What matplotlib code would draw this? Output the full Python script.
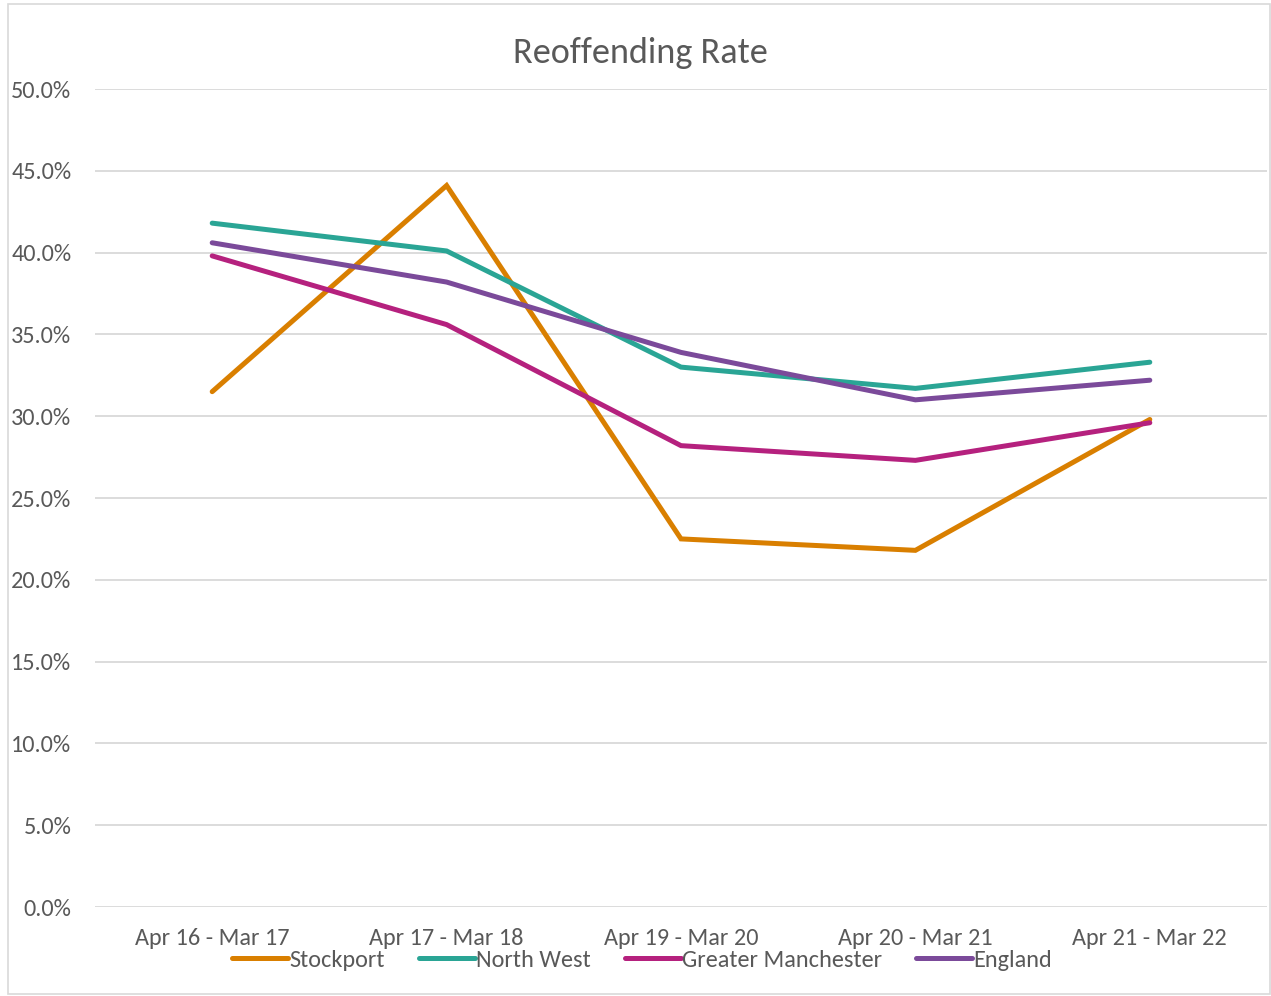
import matplotlib.pyplot as plt
from matplotlib.patches import Rectangle

# Data
periods = ['Apr 16 - Mar 17', 'Apr 17 - Mar 18', 'Apr 19 - Mar 20',
           'Apr 20 - Mar 21', 'Apr 21 - Mar 22']
stockport = [31.5, 44.1, 22.5, 21.8, 29.8]
north_west = [41.8, 40.1, 33.0, 31.7, 33.3]
greater_manchester = [39.8, 35.6, 28.2, 27.3, 29.6]
england = [40.6, 38.2, 33.9, 31.0, 32.2]

series = [
    ('Stockport', stockport, '#D97F00'),
    ('North West', north_west, '#2AA595'),
    ('Greater Manchester', greater_manchester, '#B5217E'),
    ('England', england, '#7B4A9A'),
]

plt.rcParams['font.family'] = ['Carlito', 'Liberation Sans', 'DejaVu Sans']
text_color = '#595959'

fig = plt.figure(figsize=(12.71, 9.96), dpi=100)
ax = fig.add_axes([95 / 1271, 1 - 907 / 996, 1172 / 1271, (907 - 89) / 996])

# outer chart border
fig.patches.append(Rectangle((8 / 1271, 2 / 996), 1262 / 1271, 990 / 996,
                             transform=fig.transFigure, fill=False,
                             edgecolor='#D9D9D9', linewidth=1.2))

x = range(len(periods))
for name, vals, col in series:
    ax.plot(x, vals, color=col, linewidth=3.6, label=name,
            solid_capstyle='round', solid_joinstyle='miter')

ax.set_xlim(-0.5, len(periods) - 0.5)
ax.set_ylim(0, 50)
ax.set_yticks(range(0, 51, 5))
ax.set_yticklabels([f'{v:.1f}%' for v in range(0, 51, 5)])
ax.set_xticks(list(x))
ax.set_xticklabels(periods)
ax.grid(axis='y', color='#D9D9D9', linewidth=1.3)
ax.set_axisbelow(True)
for s in ax.spines.values():
    s.set_visible(False)
ax.tick_params(axis='both', length=0, colors=text_color, labelsize=17.5)
ax.tick_params(axis='y', pad=17)
ax.tick_params(axis='x', pad=15)

fig.text(640 / 1271, 1 - 53 / 996, 'Reoffending Rate', ha='center', va='center',
         fontsize=26, color=text_color)

leg = fig.legend(loc='center', bbox_to_anchor=(642 / 1271, 1 - 960 / 996), ncol=4,
                 frameon=False, fontsize=17.5, handlelength=2.3, handletextpad=0.05,
                 columnspacing=1.4)
for t in leg.get_texts():
    t.set_color(text_color)

fig.savefig('out.png', dpi=100)
